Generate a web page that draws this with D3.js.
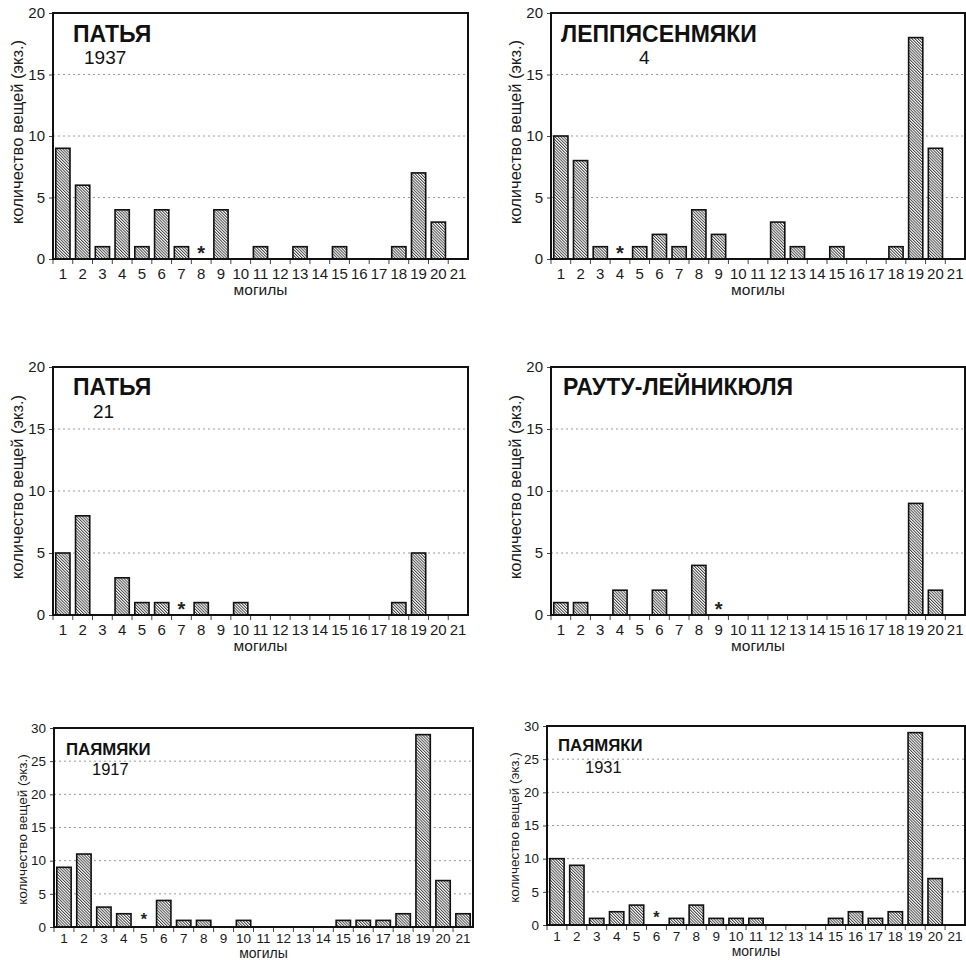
<!DOCTYPE html>
<html><head><meta charset="utf-8">
<script src="https://cdn.jsdelivr.net/npm/d3@7/dist/d3.min.js"></script>
<style>body{margin:0;background:#fff}svg{display:block}</style>
</head><body>
<svg id="chart" width="966" height="960"></svg>
<script>
// ---- data ----
const graves = ["1","2","3","4","5","6","7","8","9","10","11","12","13","14","15","16","17","18","19","20","21"];
const pattya1937      = [9,6,1,4,1,4,1,0,4,0,1,0,1,0,1,0,0,1,7,3,0];
const leppasenmaki4   = [10,8,1,0,1,2,1,4,2,0,0,3,1,0,1,0,0,1,18,9,0];
const pattya21        = [5,8,0,3,1,1,0,1,0,1,0,0,0,0,0,0,0,1,5,0,0];
const rautuLeinikula  = [1,1,0,2,0,2,0,4,0,0,0,0,0,0,0,0,0,0,9,2,0];
const pajamaki1917    = [9,11,3,2,0,4,1,1,0,1,0,0,0,0,1,1,1,2,29,7,2];
const pajamaki1931    = [10,9,1,2,3,0,1,3,1,1,1,0,0,0,1,2,1,2,29,7,0];
const panelTitles     = ["ПАТЬЯ","ЛЕППЯСЕНМЯКИ","ПАТЬЯ","РАУТУ-ЛЕЙНИКЮЛЯ","ПАЯМЯКИ","ПАЯМЯКИ"];
const panelSubtitles  = ["1937","4","21","","1917","1931"];
const starGraves      = ["8","4","7","9","5","6"];
const yTicks20        = [0,5,10,15,20];
const yTicks30        = [0,5,10,15,20,25,30];
const yLabel = "количество вещей (экз.)";
const xLabel = "могилы";

// ---- layout ----
const panels = [
  {vals:pattya1937,     x0:53,  x1:468, y0:13,  y1:259, ticks:yTicks20, tx:73,  ty:42,  sx:84,  sy:64,  big:true,  yl:23},
  {vals:leppasenmaki4,  x0:551, x1:965, y0:13,  y1:259, ticks:yTicks20, tx:561, ty:42,  sx:639, sy:64,  big:true,  yl:521},
  {vals:pattya21,       x0:53,  x1:468, y0:367, y1:615, ticks:yTicks20, tx:73,  ty:395, sx:93,  sy:418, big:true,  yl:23},
  {vals:rautuLeinikula, x0:551, x1:965, y0:367, y1:615, ticks:yTicks20, tx:563, ty:395, sx:0,   sy:0,   big:true,  yl:521},
  {vals:pajamaki1917,   x0:54,  x1:473, y0:728, y1:927, ticks:yTicks30, tx:66,  ty:755, sx:92,  sy:775, big:false, yl:27},
  {vals:pajamaki1931,   x0:547, x1:965, y0:726, y1:925, ticks:yTicks30, tx:558, ty:751, sx:585, sy:773, big:false, yl:519}
];

const svg = d3.select("#chart");
const font = "'Liberation Sans', Arial, sans-serif";

const defs = svg.append("defs");
const pw = 2.05;
const pat = defs.append("pattern").attr("id","hatch")
  .attr("patternUnits","userSpaceOnUse").attr("width",pw).attr("height",pw)
  .attr("patternTransform","rotate(-45)");
pat.append("rect").attr("width",pw).attr("height",pw).attr("fill","#fff");
pat.append("line").attr("x1",0.5).attr("y1",-1).attr("x2",0.5).attr("y2",4)
  .attr("stroke","#2a2a2a").attr("stroke-width",0.85);

panels.forEach((p,i)=>{
  const g = svg.append("g");
  const ymax = d3.max(p.ticks);
  const x = d3.scaleBand().domain(graves).range([p.x0,p.x1]).paddingInner(0.28).paddingOuter(0.14);
  const y = d3.scaleLinear().domain([0,ymax]).range([p.y1,p.y0]);
  const tickFs = p.big ? 15 : 13.5;

  // grid
  g.selectAll(".grid").data(p.ticks.filter(t=>t>0 && t<ymax)).enter().append("line")
    .attr("x1",p.x0).attr("x2",p.x1).attr("y1",d=>y(d)).attr("y2",d=>y(d))
    .attr("stroke","#9a9a9a").attr("stroke-width",1).attr("stroke-dasharray","2,3");

  // y axis
  const ya = d3.axisLeft(y).tickValues(p.ticks).tickSize(4).tickPadding(4);
  const yg = g.append("g").attr("transform",`translate(${p.x0},0)`).call(ya);
  yg.select(".domain").remove();
  yg.selectAll("text").attr("font-family",font).attr("font-size",tickFs).attr("fill","#1a1a1a");
  yg.selectAll("line").attr("stroke","#444");

  // x axis
  const xa = d3.axisBottom(x).tickSize(0).tickPadding(p.big?9:6);
  const xg = g.append("g").attr("transform",`translate(0,${p.y1})`).call(xa);
  xg.select(".domain").remove();
  xg.selectAll("text").attr("font-family",font).attr("font-size",tickFs).attr("fill","#1a1a1a");
  const step = x.step();
  g.selectAll(".xt").data(graves).enter().append("line")
    .attr("x1",d=>x(d)-step*x.paddingInner()/2).attr("x2",d=>x(d)-step*x.paddingInner()/2)
    .attr("y1",p.y1).attr("y2",p.y1+5).attr("stroke","#444").attr("stroke-width",1);

  // bars
  g.selectAll(".bar").data(p.vals.map((v,k)=>({g:graves[k],v}))).enter()
    .filter(d=>d.v>0).append("rect")
    .attr("x",d=>x(d.g)).attr("width",x.bandwidth())
    .attr("y",d=>y(d.v)).attr("height",d=>y(0)-y(d.v))
    .attr("fill","url(#hatch)").attr("stroke","#111").attr("stroke-width",1.6);

  // star
  g.append("text").attr("x",x(starGraves[i])+x.bandwidth()/2).attr("y",p.big ? p.y1+1 : p.y1-2)
    .attr("text-anchor","middle").attr("font-family",font).attr("font-size",p.big?20:16)
    .attr("font-weight","bold").attr("fill","#222").text("*");

  // frame
  g.append("rect").attr("x",p.x0).attr("y",p.y0).attr("width",p.x1-p.x0).attr("height",p.y1-p.y0)
    .attr("fill","none").attr("stroke","#111").attr("stroke-width",2);

  // titles
  g.append("text").attr("x",p.tx).attr("y",p.ty).attr("font-family",font)
    .attr("font-weight","bold").attr("font-size",p.big?23:16.8).attr("fill","#111").text(panelTitles[i]);
  if (panelSubtitles[i]) {
    g.append("text").attr("x",p.sx).attr("y",p.sy).attr("font-family",font)
      .attr("font-size",p.big?19:16.5).attr("fill","#111").text(panelSubtitles[i]);
  }

  // axis labels
  g.append("text").attr("x",(p.x0+p.x1)/2).attr("y",p.y1+(p.big?36:31))
    .attr("text-anchor","middle").attr("font-family",font).attr("font-size",p.big?15.5:14)
    .attr("fill","#1a1a1a").text(xLabel);
  const cy = (p.y0+p.y1)/2 - (p.big?4:-2);
  g.append("text").attr("transform",`translate(${p.yl},${cy}) rotate(-90)`)
    .attr("text-anchor","middle").attr("font-family",font).attr("font-size",p.big?16.5:13.5)
    .attr("fill","#1a1a1a").text(yLabel);
});
</script>
</body></html>
